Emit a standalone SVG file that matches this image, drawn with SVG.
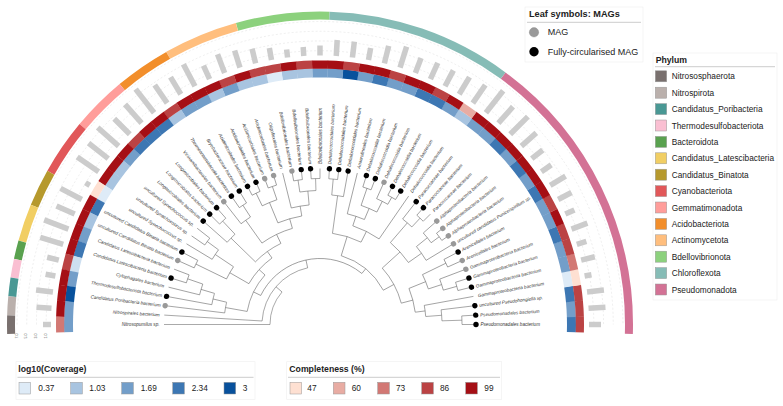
<svg xmlns="http://www.w3.org/2000/svg" xmlns:xlink="http://www.w3.org/1999/xlink" width="783" height="406" viewBox="0 0 783 406">
<style>
.bar{stroke:#cccccc;stroke-width:5.5}
.g{fill:#999999}
.b{fill:#000000}
.lab{font-family:"Liberation Sans",Arial,sans-serif;font-style:italic;font-size:4.6px;fill:#333333}
.labl{font-family:"Liberation Sans",Arial,sans-serif;font-style:italic;font-size:4.6px;fill:#333333;text-anchor:end}
.edges path,.edges circle{fill:none;stroke:#555555;stroke-width:0.5}
.ph{fill:none;stroke-width:8}
.grid{fill:none;stroke:#dddddd;stroke-width:0.5;stroke-dasharray:2 2}
.lt{font-family:"Liberation Sans",Arial,sans-serif;font-weight:bold;font-size:8.7px;fill:#222222}
.lt2{font-family:"Liberation Sans",Arial,sans-serif;font-weight:bold;font-size:9.2px;fill:#222222}
.lg{font-family:"Liberation Sans",Arial,sans-serif;font-size:8.3px;fill:#222222}
.lg2{font-family:"Liberation Sans",Arial,sans-serif;font-size:9px;fill:#222222}
.ax{font-family:"Liberation Sans",Arial,sans-serif;font-size:3.6px;fill:#555555;text-anchor:middle}
.box{fill:#ffffff;stroke:#eeeeee;stroke-width:0.6}
.ul{stroke:#aaaaaa;stroke-width:0.6}
.sw{stroke:#999999;stroke-width:0.5}
</style>
<defs>
<path id="cb" d="M566.88,316.91 L575.88,316.64 A256,256 0 0 1 575.88,332.36 L566.88,332.09 A247,247 0 0 0 566.88,316.91 Z"/>
<path id="cr" d="M575.7,316.65 L583.88,316.39 A264,264 0 0 1 583.88,332.61 L575.7,332.35 A255.8,255.8 0 0 0 575.7,316.65 Z"/>
</defs>
<rect width="783" height="406" fill="#ffffff"/>

<g id="bar-grid">
<path class="grid" d="M46.15,324.5 A273.85,273.85 0 0 1 593.85,324.5"/>
<path class="grid" d="M36.45,324.5 A283.55,283.55 0 0 1 603.55,324.5"/>
<path class="grid" d="M26.75,324.5 A293.25,293.25 0 0 1 613.25,324.5"/>
<path class="grid" d="M17.05,324.5 A302.95,302.95 0 0 1 622.95,324.5"/>
<text class="ax" transform="translate(17.6,336) rotate(-90)">7.0</text>
<text class="ax" transform="translate(27.3,336) rotate(-90)">5.0</text>
<text class="ax" transform="translate(37,336) rotate(-90)">3.0</text>
<text class="ax" transform="translate(46.7,336) rotate(-90)">1.0</text>
</g>

<g id="phylum-ring">
<circle class="ph" cx="320" cy="324.5" r="309" pathLength="360" stroke="#d37295" stroke-dasharray="55.3846 400" transform="rotate(-53.6538 320 324.5)"/>
<circle class="ph" cx="320" cy="324.5" r="309" pathLength="360" stroke="#86bcb6" stroke-dasharray="34.6154 400" transform="rotate(-88.2692 320 324.5)"/>
<circle class="ph" cx="320" cy="324.5" r="309" pathLength="360" stroke="#8cd17d" stroke-dasharray="17.3077 400" transform="rotate(-105.5769 320 324.5)"/>
<circle class="ph" cx="320" cy="324.5" r="309" pathLength="360" stroke="#ffbe7d" stroke-dasharray="13.8462 400" transform="rotate(-119.4231 320 324.5)"/>
<circle class="ph" cx="320" cy="324.5" r="309" pathLength="360" stroke="#f28e2b" stroke-dasharray="10.3846 400" transform="rotate(-129.8077 320 324.5)"/>
<circle class="ph" cx="320" cy="324.5" r="309" pathLength="360" stroke="#ff9d9a" stroke-dasharray="10.3846 400" transform="rotate(-140.1923 320 324.5)"/>
<circle class="ph" cx="320" cy="324.5" r="309" pathLength="360" stroke="#e15759" stroke-dasharray="10.3846 400" transform="rotate(-150.5769 320 324.5)"/>
<circle class="ph" cx="320" cy="324.5" r="309" pathLength="360" stroke="#b6992d" stroke-dasharray="6.9231 400" transform="rotate(-157.5 320 324.5)"/>
<circle class="ph" cx="320" cy="324.5" r="309" pathLength="360" stroke="#f1ce63" stroke-dasharray="6.9231 400" transform="rotate(-164.4231 320 324.5)"/>
<circle class="ph" cx="320" cy="324.5" r="309" pathLength="360" stroke="#59a14f" stroke-dasharray="3.4615 400" transform="rotate(-167.8846 320 324.5)"/>
<circle class="ph" cx="320" cy="324.5" r="309" pathLength="360" stroke="#fabfd2" stroke-dasharray="3.4615 400" transform="rotate(-171.3462 320 324.5)"/>
<circle class="ph" cx="320" cy="324.5" r="309" pathLength="360" stroke="#499894" stroke-dasharray="3.4615 400" transform="rotate(-174.8077 320 324.5)"/>
<circle class="ph" cx="320" cy="324.5" r="309" pathLength="360" stroke="#bab0ac" stroke-dasharray="3.4615 400" transform="rotate(-178.2692 320 324.5)"/>
<circle class="ph" cx="320" cy="324.5" r="309" pathLength="360" stroke="#79706e" stroke-dasharray="3.4615 400" transform="rotate(-181.7308 320 324.5)"/>
</g>

<g id="connectors" class="edges">
<path d="M462 324.5H476"/>
<path d="M462 324.5H476" transform="rotate(-3.4615 320 324.5)"/>
<path d="M442 324.5H476" transform="rotate(-6.9231 320 324.5)"/>
<path d="M426 324.5H476" transform="rotate(-10.3846 320 324.5)"/>
<path d="M462 324.5H476" transform="rotate(-13.8462 320 324.5)"/>
<path d="M462 324.5H476" transform="rotate(-17.3077 320 324.5)"/>
<path d="M448 324.5H476" transform="rotate(-20.7692 320 324.5)"/>
<path d="M460 324.5H476" transform="rotate(-24.2308 320 324.5)"/>
<path d="M460 324.5H476" transform="rotate(-27.6923 320 324.5)"/>
<path d="M444 324.5H476" transform="rotate(-31.1538 320 324.5)"/>
<path d="M468 324.5H476" transform="rotate(-34.6154 320 324.5)"/>
<path d="M468 324.5H476" transform="rotate(-38.0769 320 324.5)"/>
<path d="M458 324.5H476" transform="rotate(-41.5385 320 324.5)"/>
<path d="M466 324.5H476" transform="rotate(-45 320 324.5)"/>
<path d="M466 324.5H476" transform="rotate(-48.4615 320 324.5)"/>
<path d="M454 324.5H476" transform="rotate(-51.9231 320 324.5)"/>
<path d="M424 324.5H476" transform="rotate(-55.3846 320 324.5)"/>
<path d="M466 324.5H476" transform="rotate(-58.8462 320 324.5)"/>
<path d="M466 324.5H476" transform="rotate(-62.3077 320 324.5)"/>
<path d="M458 324.5H476" transform="rotate(-65.7692 320 324.5)"/>
<path d="M464 324.5H476" transform="rotate(-69.2308 320 324.5)"/>
<path d="M464 324.5H476" transform="rotate(-72.6923 320 324.5)"/>
<path d="M434 324.5H476" transform="rotate(-76.1538 320 324.5)"/>
<path d="M450 324.5H476" transform="rotate(-79.6154 320 324.5)"/>
<path d="M466 324.5H476" transform="rotate(-83.0769 320 324.5)"/>
<path d="M466 324.5H476" transform="rotate(-86.5385 320 324.5)"/>
<path d="M466 324.5H476" transform="rotate(-90 320 324.5)"/>
<path d="M466 324.5H476" transform="rotate(-93.4615 320 324.5)"/>
<path d="M466 324.5H476" transform="rotate(-96.9231 320 324.5)"/>
<path d="M466 324.5H476" transform="rotate(-100.3846 320 324.5)"/>
<path d="M440 324.5H476" transform="rotate(-103.8462 320 324.5)"/>
<path d="M466 324.5H476" transform="rotate(-107.3077 320 324.5)"/>
<path d="M466 324.5H476" transform="rotate(-110.7692 320 324.5)"/>
<path d="M466 324.5H476" transform="rotate(-114.2308 320 324.5)"/>
<path d="M466 324.5H476" transform="rotate(-117.6923 320 324.5)"/>
<path d="M462 324.5H476" transform="rotate(-121.1538 320 324.5)"/>
<path d="M462 324.5H476" transform="rotate(-124.6154 320 324.5)"/>
<path d="M448 324.5H476" transform="rotate(-128.0769 320 324.5)"/>
<path d="M462 324.5H476" transform="rotate(-131.5385 320 324.5)"/>
<path d="M462 324.5H476" transform="rotate(-135 320 324.5)"/>
<path d="M444 324.5H476" transform="rotate(-138.4615 320 324.5)"/>
<path d="M460 324.5H476" transform="rotate(-141.9231 320 324.5)"/>
<path d="M460 324.5H476" transform="rotate(-145.3846 320 324.5)"/>
<path d="M446 324.5H476" transform="rotate(-148.8462 320 324.5)"/>
<path d="M458 324.5H476" transform="rotate(-152.3077 320 324.5)"/>
<path d="M458 324.5H476" transform="rotate(-155.7692 320 324.5)"/>
<path d="M460 324.5H476" transform="rotate(-159.2308 320 324.5)"/>
<path d="M460 324.5H476" transform="rotate(-162.6923 320 324.5)"/>
<path d="M444 324.5H476" transform="rotate(-166.1538 320 324.5)"/>
<path d="M430 324.5H476" transform="rotate(-169.6154 320 324.5)"/>
<path d="M416 324.5H476" transform="rotate(-173.0769 320 324.5)"/>
<path d="M378 324.5H476" transform="rotate(-176.5385 320 324.5)"/>
<path d="M370 324.5H476" transform="rotate(-180 320 324.5)"/>
<path d="M442 324.5H462" transform="rotate(-1.7308 320 324.5)"/>
<path d="M426 324.5H442" transform="rotate(-4.3269 320 324.5)"/>
<path d="M416 324.5H426" transform="rotate(-7.3558 320 324.5)"/>
<path d="M448 324.5H462" transform="rotate(-15.5769 320 324.5)"/>
<path d="M434 324.5H448" transform="rotate(-18.1731 320 324.5)"/>
<path d="M434 324.5H460" transform="rotate(-25.9615 320 324.5)"/>
<path d="M416 324.5H434" transform="rotate(-22.0673 320 324.5)"/>
<path d="M404 324.5H416" transform="rotate(-14.7115 320 324.5)"/>
<path d="M458 324.5H468" transform="rotate(-36.3462 320 324.5)"/>
<path d="M444 324.5H458" transform="rotate(-38.9423 320 324.5)"/>
<path d="M428 324.5H444" transform="rotate(-35.0481 320 324.5)"/>
<path d="M454 324.5H466" transform="rotate(-46.7308 320 324.5)"/>
<path d="M428 324.5H454" transform="rotate(-49.3269 320 324.5)"/>
<path d="M404 324.5H428" transform="rotate(-42.1875 320 324.5)"/>
<path d="M392 324.5H404" transform="rotate(-28.4495 320 324.5)"/>
<path d="M458 324.5H466" transform="rotate(-60.5769 320 324.5)"/>
<path d="M446 324.5H458" transform="rotate(-63.1731 320 324.5)"/>
<path d="M446 324.5H464" transform="rotate(-70.9615 320 324.5)"/>
<path d="M434 324.5H446" transform="rotate(-67.0673 320 324.5)"/>
<path d="M424 324.5H434" transform="rotate(-71.6106 320 324.5)"/>
<path d="M412 324.5H424" transform="rotate(-63.4976 320 324.5)"/>
<path d="M450 324.5H466" transform="rotate(-84.8077 320 324.5)"/>
<path d="M412 324.5H450" transform="rotate(-82.2115 320 324.5)"/>
<path d="M392 324.5H412" transform="rotate(-72.8546 320 324.5)"/>
<path d="M386 324.5H392" transform="rotate(-50.652 320 324.5)"/>
<path d="M454 324.5H466" transform="rotate(-91.7308 320 324.5)"/>
<path d="M454 324.5H466" transform="rotate(-98.6538 320 324.5)"/>
<path d="M440 324.5H454" transform="rotate(-95.1923 320 324.5)"/>
<path d="M430 324.5H440" transform="rotate(-99.5192 320 324.5)"/>
<path d="M452 324.5H466" transform="rotate(-109.0385 320 324.5)"/>
<path d="M452 324.5H466" transform="rotate(-115.9615 320 324.5)"/>
<path d="M430 324.5H452" transform="rotate(-112.5 320 324.5)"/>
<path d="M420 324.5H430" transform="rotate(-106.0096 320 324.5)"/>
<path d="M448 324.5H462" transform="rotate(-122.8846 320 324.5)"/>
<path d="M420 324.5H448" transform="rotate(-125.4808 320 324.5)"/>
<path d="M410 324.5H420" transform="rotate(-115.7452 320 324.5)"/>
<path d="M444 324.5H462" transform="rotate(-133.2692 320 324.5)"/>
<path d="M410 324.5H444" transform="rotate(-135.8654 320 324.5)"/>
<path d="M402 324.5H410" transform="rotate(-125.8053 320 324.5)"/>
<path d="M446 324.5H460" transform="rotate(-143.6538 320 324.5)"/>
<path d="M424 324.5H446" transform="rotate(-146.25 320 324.5)"/>
<path d="M424 324.5H458" transform="rotate(-154.0385 320 324.5)"/>
<path d="M402 324.5H424" transform="rotate(-150.1442 320 324.5)"/>
<path d="M394 324.5H402" transform="rotate(-137.9748 320 324.5)"/>
<path d="M444 324.5H460" transform="rotate(-160.9615 320 324.5)"/>
<path d="M430 324.5H444" transform="rotate(-163.5577 320 324.5)"/>
<path d="M416 324.5H430" transform="rotate(-166.5865 320 324.5)"/>
<path d="M394 324.5H416" transform="rotate(-169.8317 320 324.5)"/>
<path d="M386 324.5H394" transform="rotate(-153.9032 320 324.5)"/>
<path d="M378 324.5H386" transform="rotate(-102.2777 320 324.5)"/>
<path d="M370 324.5H378" transform="rotate(-139.4054 320 324.5)"/>
<circle cx="320" cy="324.5" r="142" pathLength="360" stroke-dasharray="3.4615 400" transform="rotate(-3.4615 320 324.5)"/>
<circle cx="320" cy="324.5" r="122" pathLength="360" stroke-dasharray="5.1923 400" transform="rotate(-6.9231 320 324.5)"/>
<circle cx="320" cy="324.5" r="106" pathLength="360" stroke-dasharray="6.0577 400" transform="rotate(-10.3846 320 324.5)"/>
<circle cx="320" cy="324.5" r="142" pathLength="360" stroke-dasharray="3.4615 400" transform="rotate(-17.3077 320 324.5)"/>
<circle cx="320" cy="324.5" r="128" pathLength="360" stroke-dasharray="5.1923 400" transform="rotate(-20.7692 320 324.5)"/>
<circle cx="320" cy="324.5" r="140" pathLength="360" stroke-dasharray="3.4615 400" transform="rotate(-27.6923 320 324.5)"/>
<circle cx="320" cy="324.5" r="114" pathLength="360" stroke-dasharray="7.7884 400" transform="rotate(-25.9615 320 324.5)"/>
<circle cx="320" cy="324.5" r="96" pathLength="360" stroke-dasharray="14.7115 400" transform="rotate(-22.0673 320 324.5)"/>
<circle cx="320" cy="324.5" r="148" pathLength="360" stroke-dasharray="3.4615 400" transform="rotate(-38.0769 320 324.5)"/>
<circle cx="320" cy="324.5" r="138" pathLength="360" stroke-dasharray="5.1923 400" transform="rotate(-41.5385 320 324.5)"/>
<circle cx="320" cy="324.5" r="124" pathLength="360" stroke-dasharray="7.7885 400" transform="rotate(-38.9423 320 324.5)"/>
<circle cx="320" cy="324.5" r="146" pathLength="360" stroke-dasharray="3.4615 400" transform="rotate(-48.4615 320 324.5)"/>
<circle cx="320" cy="324.5" r="134" pathLength="360" stroke-dasharray="5.1923 400" transform="rotate(-51.9231 320 324.5)"/>
<circle cx="320" cy="324.5" r="108" pathLength="360" stroke-dasharray="14.2788 400" transform="rotate(-49.3269 320 324.5)"/>
<circle cx="320" cy="324.5" r="84" pathLength="360" stroke-dasharray="27.476 400" transform="rotate(-42.1875 320 324.5)"/>
<circle cx="320" cy="324.5" r="146" pathLength="360" stroke-dasharray="3.4615 400" transform="rotate(-62.3077 320 324.5)"/>
<circle cx="320" cy="324.5" r="138" pathLength="360" stroke-dasharray="5.1923 400" transform="rotate(-65.7692 320 324.5)"/>
<circle cx="320" cy="324.5" r="144" pathLength="360" stroke-dasharray="3.4615 400" transform="rotate(-72.6923 320 324.5)"/>
<circle cx="320" cy="324.5" r="126" pathLength="360" stroke-dasharray="7.7884 400" transform="rotate(-70.9615 320 324.5)"/>
<circle cx="320" cy="324.5" r="114" pathLength="360" stroke-dasharray="9.0865 400" transform="rotate(-76.1538 320 324.5)"/>
<circle cx="320" cy="324.5" r="104" pathLength="360" stroke-dasharray="16.226 400" transform="rotate(-71.6106 320 324.5)"/>
<circle cx="320" cy="324.5" r="146" pathLength="360" stroke-dasharray="3.4615 400" transform="rotate(-86.5385 320 324.5)"/>
<circle cx="320" cy="324.5" r="130" pathLength="360" stroke-dasharray="5.1923 400" transform="rotate(-84.8077 320 324.5)"/>
<circle cx="320" cy="324.5" r="92" pathLength="360" stroke-dasharray="18.7139 400" transform="rotate(-82.2115 320 324.5)"/>
<circle cx="320" cy="324.5" r="72" pathLength="360" stroke-dasharray="44.4051 400" transform="rotate(-72.8546 320 324.5)"/>
<circle cx="320" cy="324.5" r="146" pathLength="360" stroke-dasharray="3.4615 400" transform="rotate(-93.4615 320 324.5)"/>
<circle cx="320" cy="324.5" r="146" pathLength="360" stroke-dasharray="3.4615 400" transform="rotate(-100.3846 320 324.5)"/>
<circle cx="320" cy="324.5" r="134" pathLength="360" stroke-dasharray="6.923 400" transform="rotate(-98.6538 320 324.5)"/>
<circle cx="320" cy="324.5" r="120" pathLength="360" stroke-dasharray="8.6539 400" transform="rotate(-103.8462 320 324.5)"/>
<circle cx="320" cy="324.5" r="146" pathLength="360" stroke-dasharray="3.4615 400" transform="rotate(-110.7692 320 324.5)"/>
<circle cx="320" cy="324.5" r="146" pathLength="360" stroke-dasharray="3.4615 400" transform="rotate(-117.6923 320 324.5)"/>
<circle cx="320" cy="324.5" r="132" pathLength="360" stroke-dasharray="6.923 400" transform="rotate(-115.9615 320 324.5)"/>
<circle cx="320" cy="324.5" r="110" pathLength="360" stroke-dasharray="12.9808 400" transform="rotate(-112.5 320 324.5)"/>
<circle cx="320" cy="324.5" r="142" pathLength="360" stroke-dasharray="3.4615 400" transform="rotate(-124.6154 320 324.5)"/>
<circle cx="320" cy="324.5" r="128" pathLength="360" stroke-dasharray="5.1923 400" transform="rotate(-128.0769 320 324.5)"/>
<circle cx="320" cy="324.5" r="100" pathLength="360" stroke-dasharray="19.4712 400" transform="rotate(-125.4808 320 324.5)"/>
<circle cx="320" cy="324.5" r="142" pathLength="360" stroke-dasharray="3.4615 400" transform="rotate(-135 320 324.5)"/>
<circle cx="320" cy="324.5" r="124" pathLength="360" stroke-dasharray="5.1923 400" transform="rotate(-138.4615 320 324.5)"/>
<circle cx="320" cy="324.5" r="90" pathLength="360" stroke-dasharray="20.1202 400" transform="rotate(-135.8654 320 324.5)"/>
<circle cx="320" cy="324.5" r="140" pathLength="360" stroke-dasharray="3.4615 400" transform="rotate(-145.3846 320 324.5)"/>
<circle cx="320" cy="324.5" r="126" pathLength="360" stroke-dasharray="5.1924 400" transform="rotate(-148.8462 320 324.5)"/>
<circle cx="320" cy="324.5" r="138" pathLength="360" stroke-dasharray="3.4615 400" transform="rotate(-155.7692 320 324.5)"/>
<circle cx="320" cy="324.5" r="104" pathLength="360" stroke-dasharray="7.7885 400" transform="rotate(-154.0385 320 324.5)"/>
<circle cx="320" cy="324.5" r="82" pathLength="360" stroke-dasharray="24.3389 400" transform="rotate(-150.1442 320 324.5)"/>
<circle cx="320" cy="324.5" r="140" pathLength="360" stroke-dasharray="3.4615 400" transform="rotate(-162.6923 320 324.5)"/>
<circle cx="320" cy="324.5" r="124" pathLength="360" stroke-dasharray="5.1923 400" transform="rotate(-166.1538 320 324.5)"/>
<circle cx="320" cy="324.5" r="110" pathLength="360" stroke-dasharray="6.0577 400" transform="rotate(-169.6154 320 324.5)"/>
<circle cx="320" cy="324.5" r="96" pathLength="360" stroke-dasharray="6.4904 400" transform="rotate(-173.0769 320 324.5)"/>
<circle cx="320" cy="324.5" r="74" pathLength="360" stroke-dasharray="31.8569 400" transform="rotate(-169.8317 320 324.5)"/>
<circle cx="320" cy="324.5" r="66" pathLength="360" stroke-dasharray="103.2512 400" transform="rotate(-153.9032 320 324.5)"/>
<circle cx="320" cy="324.5" r="58" pathLength="360" stroke-dasharray="74.2608 400" transform="rotate(-176.5385 320 324.5)"/>
<circle cx="320" cy="324.5" r="50" pathLength="360" stroke-dasharray="40.5946 400" transform="rotate(-180 320 324.5)"/>
</g>

<g id="leaves">
<g id="tip-00" transform="rotate(0 320 324.5)"><use href="#cb" fill="#3d77b3"/><use href="#cr" fill="#bb4344"/><line class="bar" x1="589" x2="601" y1="324.5" y2="324.5"/><circle class="b" cx="476" cy="324.5" r="2.7"/><text class="lab" x="480.5" y="326.1">Pseudomonadales bacterium</text></g>
<g id="tip-01" transform="rotate(-3.4615 320 324.5)"><use href="#cb" fill="#739ec9"/><use href="#cr" fill="#bb4344"/><line class="bar" x1="589" x2="606" y1="324.5" y2="324.5"/><circle class="b" cx="476" cy="324.5" r="2.7"/><text class="lab" x="480.5" y="326.1">Pseudomonadales bacterium</text></g>
<g id="tip-02" transform="rotate(-6.9231 320 324.5)"><use href="#cb" fill="#3d77b3"/><use href="#cr" fill="#bb4344"/><line class="bar" x1="589" x2="606" y1="324.5" y2="324.5"/><circle class="b" cx="476" cy="324.5" r="2.7"/><text class="lab" x="480.5" y="326.1">uncultured Pseudohongiella sp.</text></g>
<g id="tip-03" transform="rotate(-10.3846 320 324.5)"><use href="#cb" fill="#deebf7"/><use href="#cr" fill="#fee0d2"/><line class="bar" x1="589" x2="596" y1="324.5" y2="324.5"/><text class="lab" x="480.5" y="326.1">Gammaproteobacteria bacterium</text></g>
<g id="tip-04" transform="rotate(-13.8462 320 324.5)"><use href="#cb" fill="#739ec9"/><use href="#cr" fill="#d27874"/><line class="bar" x1="589" x2="603" y1="324.5" y2="324.5"/><circle class="b" cx="476" cy="324.5" r="2.7"/><text class="lab" x="480.5" y="326.1">Gammaproteobacteria bacterium</text></g>
<g id="tip-05" transform="rotate(-17.3077 320 324.5)"><use href="#cb" fill="#739ec9"/><use href="#cr" fill="#bb4344"/><line class="bar" x1="589" x2="599" y1="324.5" y2="324.5"/><circle class="b" cx="476" cy="324.5" r="2.7"/><text class="lab" x="480.5" y="326.1">Gammaproteobacteria bacterium</text></g>
<g id="tip-06" transform="rotate(-20.7692 320 324.5)"><use href="#cb" fill="#3d77b3"/><use href="#cr" fill="#bb4344"/><line class="bar" x1="589" x2="606" y1="324.5" y2="324.5"/><circle class="g" cx="476" cy="324.5" r="2.7"/><text class="lab" x="480.5" y="326.1">Gammaproteobacteria bacterium</text></g>
<g id="tip-07" transform="rotate(-24.2308 320 324.5)"><use href="#cb" fill="#739ec9"/><use href="#cr" fill="#a50f15"/><line class="bar" x1="589" x2="599" y1="324.5" y2="324.5"/><circle class="g" cx="476" cy="324.5" r="2.7"/><text class="lab" x="480.5" y="326.1">Arenicellales bacterium</text></g>
<g id="tip-08" transform="rotate(-27.6923 320 324.5)"><use href="#cb" fill="#739ec9"/><use href="#cr" fill="#bb4344"/><line class="bar" x1="589" x2="604" y1="324.5" y2="324.5"/><circle class="b" cx="476" cy="324.5" r="2.7"/><text class="lab" x="480.5" y="326.1">Arenicellales bacterium</text></g>
<g id="tip-09" transform="rotate(-31.1538 320 324.5)"><use href="#cb" fill="#3d77b3"/><use href="#cr" fill="#a50f15"/><line class="bar" x1="589" x2="607" y1="324.5" y2="324.5"/><circle class="g" cx="476" cy="324.5" r="2.7"/><text class="lab" x="480.5" y="326.1">uncultured candidatus Puniceispirillum sp.</text></g>
<g id="tip-10" transform="rotate(-34.6154 320 324.5)"><use href="#cb" fill="#739ec9"/><use href="#cr" fill="#a50f15"/><line class="bar" x1="589" x2="601" y1="324.5" y2="324.5"/><circle class="g" cx="476" cy="324.5" r="2.7"/><text class="lab" x="480.5" y="326.1">Alphaproteobacteria bacterium</text></g>
<g id="tip-11" transform="rotate(-38.0769 320 324.5)"><use href="#cb" fill="#3d77b3"/><use href="#cr" fill="#a50f15"/><line class="bar" x1="589" x2="603" y1="324.5" y2="324.5"/><circle class="g" cx="476" cy="324.5" r="2.7"/><text class="lab" x="480.5" y="326.1">Alphaproteobacteria bacterium</text></g>
<g id="tip-12" transform="rotate(-41.5385 320 324.5)"><use href="#cb" fill="#739ec9"/><use href="#cr" fill="#a50f15"/><line class="bar" x1="589" x2="609" y1="324.5" y2="324.5"/><circle class="g" cx="476" cy="324.5" r="2.7"/><text class="lab" x="480.5" y="326.1">Alphaproteobacteria bacterium</text></g>
<g id="tip-13" transform="rotate(-45 320 324.5)"><use href="#cb" fill="#3d77b3"/><use href="#cr" fill="#a50f15"/><line class="bar" x1="589" x2="614" y1="324.5" y2="324.5"/><text class="lab" x="480.5" y="326.1">Paracoccaceae bacterium</text></g>
<g id="tip-14" transform="rotate(-48.4615 320 324.5)"><use href="#cb" fill="#739ec9"/><use href="#cr" fill="#a50f15"/><line class="bar" x1="589" x2="611" y1="324.5" y2="324.5"/><circle class="b" cx="476" cy="324.5" r="2.7"/><text class="lab" x="480.5" y="326.1">Paracoccaceae bacterium</text></g>
<g id="tip-15" transform="rotate(-51.9231 320 324.5)"><use href="#cb" fill="#739ec9"/><use href="#cr" fill="#a50f15"/><line class="bar" x1="589" x2="617" y1="324.5" y2="324.5"/><circle class="b" cx="476" cy="324.5" r="2.7"/><text class="lab" x="480.5" y="326.1">Paracoccaceae bacterium</text></g>
<g id="tip-16" transform="rotate(-55.3846 320 324.5)"><use href="#cb" fill="#a8c4e0"/><use href="#cr" fill="#e8aca3"/><line class="bar" x1="589" x2="611" y1="324.5" y2="324.5"/><text class="lab" x="480.5" y="326.1">Dehalococcoidia bacterium</text></g>
<g id="tip-17" transform="rotate(-58.8462 320 324.5)"><use href="#cb" fill="#739ec9"/><use href="#cr" fill="#a50f15"/><line class="bar" x1="589" x2="609" y1="324.5" y2="324.5"/><circle class="b" cx="476" cy="324.5" r="2.7"/><text class="lab" x="480.5" y="326.1">Dehalococcoidia bacterium</text></g>
<g id="tip-18" transform="rotate(-62.3077 320 324.5)"><use href="#cb" fill="#3d77b3"/><use href="#cr" fill="#bb4344"/><line class="bar" x1="589" x2="607" y1="324.5" y2="324.5"/><circle class="b" cx="476" cy="324.5" r="2.7"/><text class="lab" x="480.5" y="326.1">Dehalococcoidia bacterium</text></g>
<g id="tip-19" transform="rotate(-65.7692 320 324.5)"><use href="#cb" fill="#3d77b3"/><use href="#cr" fill="#a50f15"/><line class="bar" x1="589" x2="607" y1="324.5" y2="324.5"/><circle class="g" cx="476" cy="324.5" r="2.7"/><text class="lab" x="480.5" y="326.1">Dehalococcoidia bacterium</text></g>
<g id="tip-20" transform="rotate(-69.2308 320 324.5)"><use href="#cb" fill="#739ec9"/><use href="#cr" fill="#a50f15"/><line class="bar" x1="589" x2="605" y1="324.5" y2="324.5"/><circle class="b" cx="476" cy="324.5" r="2.7"/><text class="lab" x="480.5" y="326.1">Dehalococcoidia bacterium</text></g>
<g id="tip-21" transform="rotate(-72.6923 320 324.5)"><use href="#cb" fill="#739ec9"/><use href="#cr" fill="#bb4344"/><line class="bar" x1="589" x2="611" y1="324.5" y2="324.5"/><circle class="b" cx="476" cy="324.5" r="2.7"/><text class="lab" x="480.5" y="326.1">Dehalococcoidia bacterium</text></g>
<g id="tip-22" transform="rotate(-76.1538 320 324.5)"><use href="#cb" fill="#3d77b3"/><use href="#cr" fill="#a50f15"/><line class="bar" x1="589" x2="607" y1="324.5" y2="324.5"/><text class="lab" x="480.5" y="326.1">Anaerolineales bacterium</text></g>
<g id="tip-23" transform="rotate(-79.6154 320 324.5)"><use href="#cb" fill="#739ec9"/><use href="#cr" fill="#a50f15"/><line class="bar" x1="589" x2="601" y1="324.5" y2="324.5"/><circle class="b" cx="476" cy="324.5" r="2.7"/><text class="lab" x="480.5" y="326.1">Dehalococcoidales bacterium</text></g>
<g id="tip-24" transform="rotate(-83.0769 320 324.5)"><use href="#cb" fill="#08519c"/><use href="#cr" fill="#bb4344"/><line class="bar" x1="589" x2="605" y1="324.5" y2="324.5"/><circle class="b" cx="476" cy="324.5" r="2.7"/><text class="lab" x="480.5" y="326.1">Dehalococcoidales bacterium</text></g>
<g id="tip-25" transform="rotate(-86.5385 320 324.5)"><use href="#cb" fill="#739ec9"/><use href="#cr" fill="#a50f15"/><line class="bar" x1="589" x2="605" y1="324.5" y2="324.5"/><circle class="b" cx="476" cy="324.5" r="2.7"/><text class="lab" x="480.5" y="326.1">Dehalococcoidales bacterium</text></g>
<g id="tip-26" transform="rotate(-90 320 324.5)"><use href="#cb" fill="#739ec9"/><use href="#cr" fill="#a50f15"/><line class="bar" x1="589" x2="599" y1="324.5" y2="324.5"/><text class="lab" x="480.5" y="326.1">Bdellovibrionales bacterium</text></g>
<g id="tip-27" transform="rotate(-93.4615 320 324.5)"><use href="#cb" fill="#a8c4e0"/><use href="#cr" fill="#bb4344"/><line class="bar" x1="589" x2="598" y1="324.5" y2="324.5"/><circle class="b" cx="476" cy="324.5" r="2.7"/><text class="labl" x="480.5" y="326.1" transform="rotate(180 480.5 324.5)">Bdellovibrionales bacterium</text></g>
<g id="tip-28" transform="rotate(-96.9231 320 324.5)"><use href="#cb" fill="#a8c4e0"/><use href="#cr" fill="#a50f15"/><line class="bar" x1="589" x2="597" y1="324.5" y2="324.5"/><circle class="b" cx="476" cy="324.5" r="2.7"/><text class="labl" x="480.5" y="326.1" transform="rotate(180 480.5 324.5)">Bdellovibrionales bacterium</text></g>
<g id="tip-29" transform="rotate(-100.3846 320 324.5)"><use href="#cb" fill="#deebf7"/><use href="#cr" fill="#bb4344"/><line class="bar" x1="589" x2="601" y1="324.5" y2="324.5"/><circle class="g" cx="476" cy="324.5" r="2.7"/><text class="labl" x="480.5" y="326.1" transform="rotate(180 480.5 324.5)">Bdellovibrionales bacterium</text></g>
<g id="tip-30" transform="rotate(-103.8462 320 324.5)"><use href="#cb" fill="#a8c4e0"/><use href="#cr" fill="#bb4344"/><line class="bar" x1="589" x2="604" y1="324.5" y2="324.5"/><text class="labl" x="480.5" y="326.1" transform="rotate(180 480.5 324.5)">Oligoflexales bacterium</text></g>
<g id="tip-31" transform="rotate(-107.3077 320 324.5)"><use href="#cb" fill="#a8c4e0"/><use href="#cr" fill="#a50f15"/><line class="bar" x1="589" x2="607" y1="324.5" y2="324.5"/><circle class="g" cx="476" cy="324.5" r="2.7"/><text class="labl" x="480.5" y="326.1" transform="rotate(180 480.5 324.5)">Acidimicrobiales bacterium</text></g>
<g id="tip-32" transform="rotate(-110.7692 320 324.5)"><use href="#cb" fill="#739ec9"/><use href="#cr" fill="#bb4344"/><line class="bar" x1="589" x2="609" y1="324.5" y2="324.5"/><circle class="g" cx="476" cy="324.5" r="2.7"/><text class="labl" x="480.5" y="326.1" transform="rotate(180 480.5 324.5)">Acidimicrobiales bacterium</text></g>
<g id="tip-33" transform="rotate(-114.2308 320 324.5)"><use href="#cb" fill="#a8c4e0"/><use href="#cr" fill="#a50f15"/><line class="bar" x1="589" x2="604" y1="324.5" y2="324.5"/><circle class="b" cx="476" cy="324.5" r="2.7"/><text class="labl" x="480.5" y="326.1" transform="rotate(180 480.5 324.5)">Acidimicrobiales bacterium</text></g>
<g id="tip-34" transform="rotate(-117.6923 320 324.5)"><use href="#cb" fill="#739ec9"/><use href="#cr" fill="#a50f15"/><line class="bar" x1="589" x2="614" y1="324.5" y2="324.5"/><circle class="b" cx="476" cy="324.5" r="2.7"/><text class="labl" x="480.5" y="326.1" transform="rotate(180 480.5 324.5)">Acidimicrobiales bacterium</text></g>
<g id="tip-35" transform="rotate(-121.1538 320 324.5)"><use href="#cb" fill="#739ec9"/><use href="#cr" fill="#a50f15"/><line class="bar" x1="589" x2="609" y1="324.5" y2="324.5"/><circle class="b" cx="476" cy="324.5" r="2.7"/><text class="labl" x="480.5" y="326.1" transform="rotate(180 480.5 324.5)">Bryobacteraceae bacterium</text></g>
<g id="tip-36" transform="rotate(-124.6154 320 324.5)"><use href="#cb" fill="#a8c4e0"/><use href="#cr" fill="#bb4344"/><line class="bar" x1="589" x2="611" y1="324.5" y2="324.5"/><circle class="b" cx="476" cy="324.5" r="2.7"/><text class="labl" x="480.5" y="326.1" transform="rotate(180 480.5 324.5)">Thermoanaerobaculia bacterium</text></g>
<g id="tip-37" transform="rotate(-128.0769 320 324.5)"><use href="#cb" fill="#3d77b3"/><use href="#cr" fill="#a50f15"/><line class="bar" x1="589" x2="619" y1="324.5" y2="324.5"/><circle class="g" cx="476" cy="324.5" r="2.7"/><text class="labl" x="480.5" y="326.1" transform="rotate(180 480.5 324.5)">Vicinamibacterales bacterium</text></g>
<g id="tip-38" transform="rotate(-131.5385 320 324.5)"><use href="#cb" fill="#3d77b3"/><use href="#cr" fill="#a50f15"/><line class="bar" x1="589" x2="614" y1="324.5" y2="324.5"/><circle class="b" cx="476" cy="324.5" r="2.7"/><text class="labl" x="480.5" y="326.1" transform="rotate(180 480.5 324.5)">Longimicrobiales bacterium</text></g>
<g id="tip-39" transform="rotate(-135 320 324.5)"><use href="#cb" fill="#3d77b3"/><use href="#cr" fill="#bb4344"/><line class="bar" x1="589" x2="611" y1="324.5" y2="324.5"/><circle class="b" cx="476" cy="324.5" r="2.7"/><text class="labl" x="480.5" y="326.1" transform="rotate(180 480.5 324.5)">Longimicrobiales bacterium</text></g>
<g id="tip-40" transform="rotate(-138.4615 320 324.5)"><use href="#cb" fill="#739ec9"/><use href="#cr" fill="#a50f15"/><line class="bar" x1="589" x2="617" y1="324.5" y2="324.5"/><circle class="b" cx="476" cy="324.5" r="2.7"/><text class="labl" x="480.5" y="326.1" transform="rotate(180 480.5 324.5)">Longimicrobiales bacterium</text></g>
<g id="tip-41" transform="rotate(-141.9231 320 324.5)"><use href="#cb" fill="#a8c4e0"/><use href="#cr" fill="#a50f15"/><line class="bar" x1="589" x2="614" y1="324.5" y2="324.5"/><text class="labl" x="480.5" y="326.1" transform="rotate(180 480.5 324.5)">uncultured Synechococcus sp.</text></g>
<g id="tip-42" transform="rotate(-145.3846 320 324.5)"><use href="#cb" fill="#a8c4e0"/><use href="#cr" fill="#a50f15"/><line class="bar" x1="589" x2="615" y1="324.5" y2="324.5"/><text class="labl" x="480.5" y="326.1" transform="rotate(180 480.5 324.5)">uncultured Synechococcus sp.</text></g>
<g id="tip-43" transform="rotate(-148.8462 320 324.5)"><use href="#cb" fill="#deebf7"/><use href="#cr" fill="#fee0d2"/><line class="bar" x1="589" x2="594" y1="324.5" y2="324.5"/><text class="labl" x="480.5" y="326.1" transform="rotate(180 480.5 324.5)">uncultured Synechococcus sp.</text></g>
<g id="tip-44" transform="rotate(-152.3077 320 324.5)"><use href="#cb" fill="#3d77b3"/><use href="#cr" fill="#a50f15"/><line class="bar" x1="589" x2="613" y1="324.5" y2="324.5"/><circle class="b" cx="476" cy="324.5" r="2.7"/><text class="labl" x="480.5" y="326.1" transform="rotate(180 480.5 324.5)">uncultured Candidatus Binatia bacterium</text></g>
<g id="tip-45" transform="rotate(-155.7692 320 324.5)"><use href="#cb" fill="#a8c4e0"/><use href="#cr" fill="#a50f15"/><line class="bar" x1="589" x2="609" y1="324.5" y2="324.5"/><circle class="g" cx="476" cy="324.5" r="2.7"/><text class="labl" x="480.5" y="326.1" transform="rotate(180 480.5 324.5)">uncultured Candidatus Binatia bacterium</text></g>
<g id="tip-46" transform="rotate(-159.2308 320 324.5)"><use href="#cb" fill="#739ec9"/><use href="#cr" fill="#a50f15"/><line class="bar" x1="589" x2="615" y1="324.5" y2="324.5"/><text class="labl" x="480.5" y="326.1" transform="rotate(180 480.5 324.5)">Candidatus Latescibacteria bacterium</text></g>
<g id="tip-47" transform="rotate(-162.6923 320 324.5)"><use href="#cb" fill="#3d77b3"/><use href="#cr" fill="#a50f15"/><line class="bar" x1="589" x2="613" y1="324.5" y2="324.5"/><circle class="b" cx="476" cy="324.5" r="2.7"/><text class="labl" x="480.5" y="326.1" transform="rotate(180 480.5 324.5)">Candidatus Latescibacteria bacterium</text></g>
<g id="tip-48" transform="rotate(-166.1538 320 324.5)"><use href="#cb" fill="#cddff0"/><use href="#cr" fill="#bb4344"/><line class="bar" x1="589" x2="601" y1="324.5" y2="324.5"/><text class="labl" x="480.5" y="326.1" transform="rotate(180 480.5 324.5)">Cytophagales bacterium</text></g>
<g id="tip-49" transform="rotate(-169.6154 320 324.5)"><use href="#cb" fill="#739ec9"/><use href="#cr" fill="#a50f15"/><line class="bar" x1="589" x2="599" y1="324.5" y2="324.5"/><circle class="b" cx="476" cy="324.5" r="2.7"/><text class="labl" x="480.5" y="326.1" transform="rotate(180 480.5 324.5)">Thermodesulfobacteriota bacterium</text></g>
<g id="tip-50" transform="rotate(-173.0769 320 324.5)"><use href="#cb" fill="#08519c"/><use href="#cr" fill="#a50f15"/><line class="bar" x1="589" x2="606" y1="324.5" y2="324.5"/><circle class="g" cx="476" cy="324.5" r="2.7"/><text class="labl" x="480.5" y="326.1" transform="rotate(180 480.5 324.5)">Candidatus Poribacteria bacterium</text></g>
<g id="tip-51" transform="rotate(-176.5385 320 324.5)"><use href="#cb" fill="#739ec9"/><use href="#cr" fill="#a50f15"/><line class="bar" x1="589" x2="604" y1="324.5" y2="324.5"/><text class="labl" x="480.5" y="326.1" transform="rotate(180 480.5 324.5)">Nitrospirales bacterium</text></g>
<g id="tip-52" transform="rotate(-180 320 324.5)"><use href="#cb" fill="#739ec9"/><use href="#cr" fill="#d27874"/><line class="bar" x1="589" x2="597" y1="324.5" y2="324.5"/><text class="labl" x="480.5" y="326.1" transform="rotate(180 480.5 324.5)">Nitrosopumilus sp.</text></g>
</g>

<g id="legend-mag">
<rect class="box" x="525" y="7" width="118" height="55"/>
<text class="lt2" x="529" y="17">Leaf symbols: MAGs</text>
<line class="ul" x1="527" y1="22.3" x2="641" y2="22.3"/>
<circle cx="534" cy="32.3" r="4.7" fill="#999999" stroke="#888888" stroke-width="0.4"/>
<text class="lg2" x="547.7" y="35.3">MAG</text>
<circle cx="534" cy="51.7" r="4.7" fill="#000000"/>
<text class="lg2" x="547.7" y="54.7">Fully-circularised MAG</text>
</g>

<g id="legend-phylum">
<rect class="box" x="653" y="53" width="124" height="247"/>
<text class="lt" x="655.7" y="62.5">Phylum</text>
<line class="ul" x1="655" y1="66.7" x2="775" y2="66.7"/>
<rect class="sw" x="655.3" y="70.8" width="11.4" height="11" fill="#79706e"/><text class="lg" x="671.7" y="79.3">Nitrososphaerota</text>
<rect class="sw" x="655.3" y="87.2" width="11.4" height="11" fill="#bab0ac"/><text class="lg" x="671.7" y="95.7">Nitrospirota</text>
<rect class="sw" x="655.3" y="103.6" width="11.4" height="11" fill="#499894"/><text class="lg" x="671.7" y="112.1">Candidatus_Poribacteria</text>
<rect class="sw" x="655.3" y="120" width="11.4" height="11" fill="#fabfd2"/><text class="lg" x="671.7" y="128.5">Thermodesulfobacteriota</text>
<rect class="sw" x="655.3" y="136.4" width="11.4" height="11" fill="#59a14f"/><text class="lg" x="671.7" y="144.9">Bacteroidota</text>
<rect class="sw" x="655.3" y="152.8" width="11.4" height="11" fill="#f1ce63"/><text class="lg" x="671.7" y="161.3">Candidatus_Latescibacteria</text>
<rect class="sw" x="655.3" y="169.2" width="11.4" height="11" fill="#b6992d"/><text class="lg" x="671.7" y="177.7">Candidatus_Binatota</text>
<rect class="sw" x="655.3" y="185.6" width="11.4" height="11" fill="#e15759"/><text class="lg" x="671.7" y="194.1">Cyanobacteriota</text>
<rect class="sw" x="655.3" y="202" width="11.4" height="11" fill="#ff9d9a"/><text class="lg" x="671.7" y="210.5">Gemmatimonadota</text>
<rect class="sw" x="655.3" y="218.4" width="11.4" height="11" fill="#f28e2b"/><text class="lg" x="671.7" y="226.9">Acidobacteriota</text>
<rect class="sw" x="655.3" y="234.8" width="11.4" height="11" fill="#ffbe7d"/><text class="lg" x="671.7" y="243.3">Actinomycetota</text>
<rect class="sw" x="655.3" y="251.2" width="11.4" height="11" fill="#8cd17d"/><text class="lg" x="671.7" y="259.7">Bdellovibrionota</text>
<rect class="sw" x="655.3" y="267.6" width="11.4" height="11" fill="#86bcb6"/><text class="lg" x="671.7" y="276.1">Chloroflexota</text>
<rect class="sw" x="655.3" y="284" width="11.4" height="11" fill="#d37295"/><text class="lg" x="671.7" y="292.5">Pseudomonadota</text>
</g>

<g id="legend-coverage">
<rect class="box" x="16" y="361.7" width="239" height="37.6"/>
<text class="lt" x="18.3" y="371.5">log10(Coverage)</text>
<line class="ul" x1="17.5" y1="377.3" x2="253.5" y2="377.3"/>
<rect class="sw" x="19" y="382.3" width="11.7" height="11.7" fill="#deebf7"/><text class="lg" x="38.3" y="391.3">0.37</text>
<rect class="sw" x="70.7" y="382.3" width="11.7" height="11.7" fill="#a8c4e0"/><text class="lg" x="89.3" y="391.3">1.03</text>
<rect class="sw" x="121.7" y="382.3" width="11.7" height="11.7" fill="#739ec9"/><text class="lg" x="140.7" y="391.3">1.69</text>
<rect class="sw" x="172.7" y="382.3" width="11.7" height="11.7" fill="#3d77b3"/><text class="lg" x="191.7" y="391.3">2.34</text>
<rect class="sw" x="224" y="382.3" width="11.7" height="11.7" fill="#08519c"/><text class="lg" x="242.7" y="391.3">3</text>
</g>

<g id="legend-completeness">
<rect class="box" x="286.7" y="361.7" width="215" height="37.6"/>
<text class="lt" x="289.3" y="371.5">Completeness (%)</text>
<line class="ul" x1="288" y1="377.3" x2="500" y2="377.3"/>
<rect class="sw" x="290" y="382.3" width="11.7" height="11.7" fill="#fee0d2"/><text class="lg" x="307.3" y="391.3">47</text>
<rect class="sw" x="333.3" y="382.3" width="11.7" height="11.7" fill="#e8aca3"/><text class="lg" x="351.7" y="391.3">60</text>
<rect class="sw" x="377.7" y="382.3" width="11.7" height="11.7" fill="#d27874"/><text class="lg" x="396" y="391.3">73</text>
<rect class="sw" x="421.7" y="382.3" width="11.7" height="11.7" fill="#bb4344"/><text class="lg" x="440" y="391.3">86</text>
<rect class="sw" x="465.7" y="382.3" width="11.7" height="11.7" fill="#a50f15"/><text class="lg" x="484.3" y="391.3">99</text>
</g>
</svg>
